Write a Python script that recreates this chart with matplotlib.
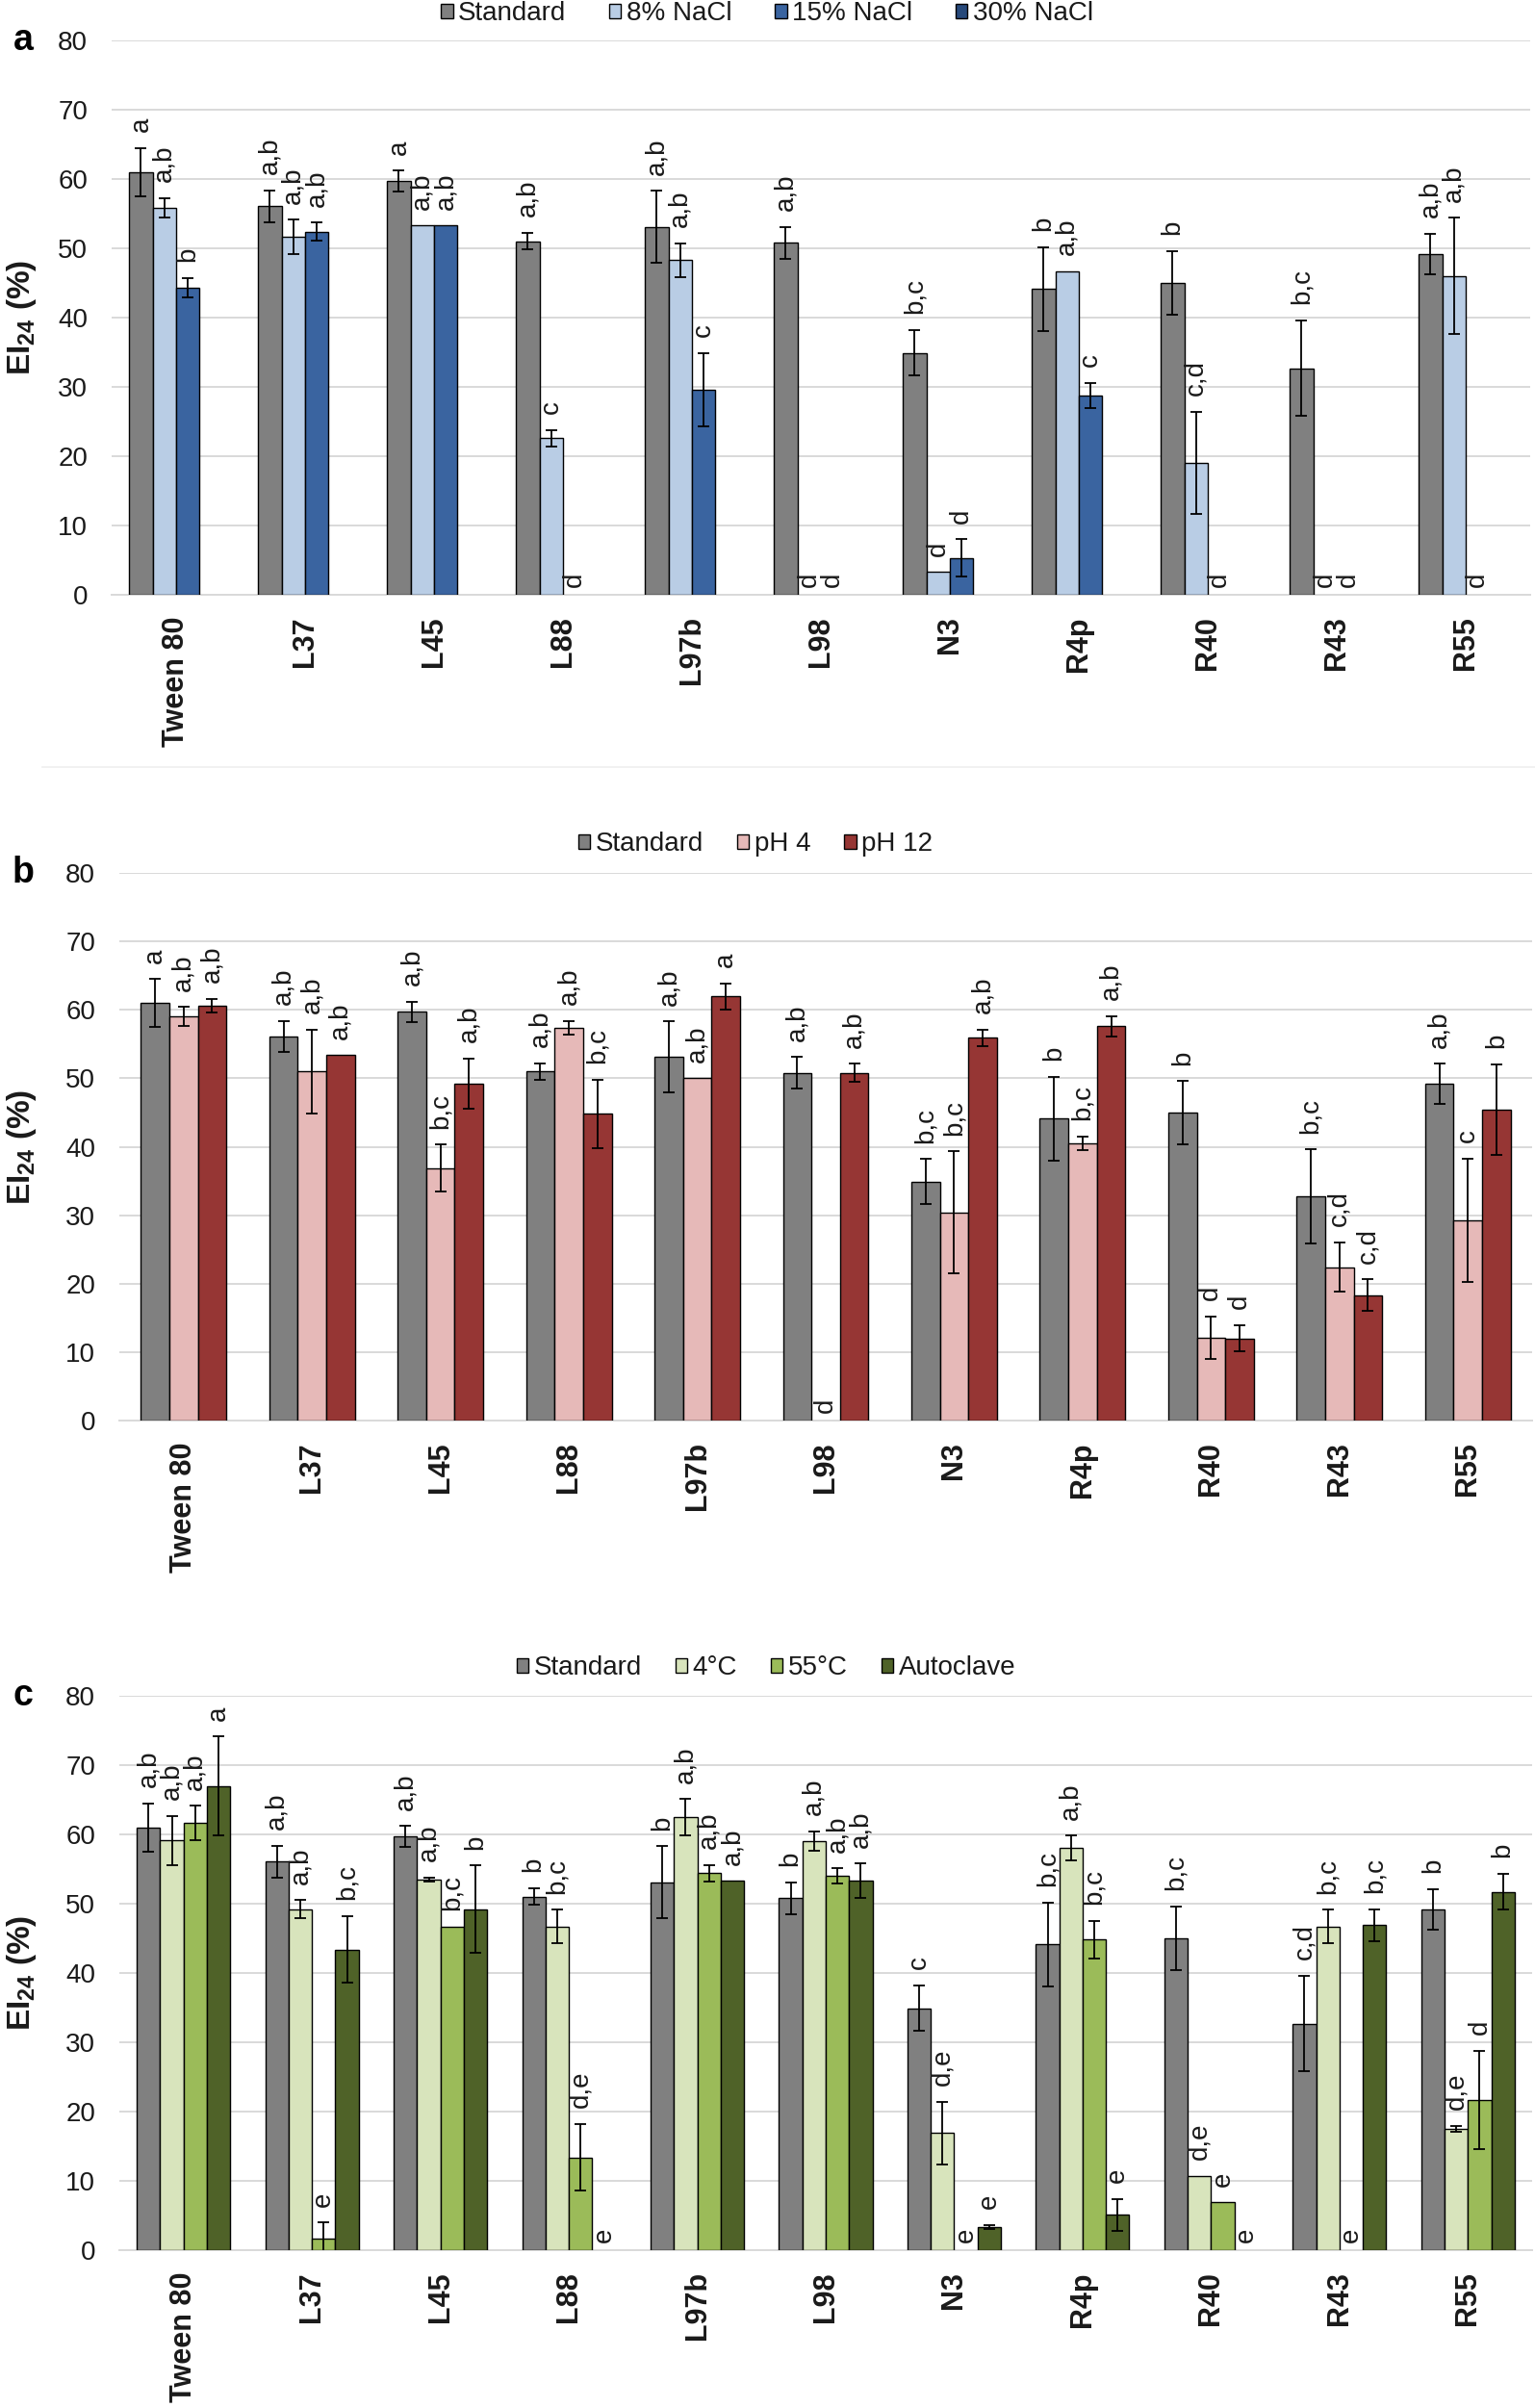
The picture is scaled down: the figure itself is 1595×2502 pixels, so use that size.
import numpy as np
import matplotlib
matplotlib.use('Agg')
import matplotlib.pyplot as plt
from matplotlib.patches import Patch

plt.rcParams['font.family'] = ['Liberation Sans', 'DejaVu Sans']
plt.rcParams['mathtext.fontset'] = 'custom'
plt.rcParams['mathtext.rm'] = 'Liberation Sans'
plt.rcParams['mathtext.bf'] = 'Liberation Sans:bold'

strains = ['Tween 80', 'L37', 'L45', 'L88', 'L97b', 'L98', 'N3', 'R4p', 'R40', 'R43', 'R55']

# standard conditions (same bars in all three panels)
std = [61.0, 56.1, 59.7, 51.0, 53.1, 50.8, 34.9, 44.1, 45.0, 32.7, 49.2]
std_err = [3.5, 2.3, 1.5, 1.2, 5.2, 2.3, 3.3, 6.1, 4.6, 6.9, 2.9]

# panel a - salinity
std_lbl_a = ['a', 'a,b', 'a', 'a,b', 'a,b', 'a,b', 'b,c', 'b', 'b', 'b,c', 'a,b']
nacl8 = [55.8, 51.6, 53.3, 22.6, 48.3, 0, 3.3, 46.7, 19.0, 0, 46.0]
nacl8_err = [1.4, 2.5, 0, 1.2, 2.4, 0, 0, 0, 7.4, 0, 8.4]
nacl8_lbl = ['a,b', 'a,b', 'a,b', 'c', 'a,b', 'd', 'd', 'a,b', 'c,d', 'd', 'a,b']
nacl15 = [44.3, 52.4, 53.3, 0, 29.6, 0, 5.3, 28.8, 0, 0, 0]
nacl15_err = [1.4, 1.3, 0, 0, 5.3, 0, 2.7, 1.8, 0, 0, 0]
nacl15_lbl = ['b', 'a,b', 'a,b', 'd', 'c', 'd', 'd', 'c', 'd', 'd', 'd']
nacl30 = [0, 0, 0, 0, 0, 0, 0, 0, 0, 0, 0]
nacl30_err = [0, 0, 0, 0, 0, 0, 0, 0, 0, 0, 0]

# panel b - pH
std_lbl_b = ['a', 'a,b', 'a,b', 'a,b', 'a,b', 'a,b', 'b,c', 'b', 'b', 'b,c', 'a,b']
ph4 = [59.0, 51.0, 36.9, 57.4, 50.0, 0, 30.4, 40.5, 12.1, 22.4, 29.3]
ph4_err = [1.4, 6.1, 3.4, 1.0, 0, 0, 8.9, 1.0, 3.1, 3.6, 9.0]
ph4_lbl = ['a,b', 'a,b', 'b,c', 'a,b', 'a,b', 'd', 'b,c', 'b,c', 'd', 'c,d', 'c']
ph12 = [60.6, 53.4, 49.2, 44.8, 62.0, 50.8, 55.9, 57.6, 12.0, 18.3, 45.4]
ph12_err = [1.0, 0, 3.7, 5.0, 1.9, 1.3, 1.2, 1.5, 1.9, 2.3, 6.6]
ph12_lbl = ['a,b', 'a,b', 'a,b', 'b,c', 'a', 'a,b', 'a,b', 'a,b', 'd', 'c,d', 'b']

# panel c - temperature
std_lbl_c = ['a,b', 'a,b', 'a,b', 'b', 'b', 'b', 'c', 'b,c', 'b,c', 'c,d', 'b']
t4 = [59.1, 49.2, 53.5, 46.7, 62.5, 59.0, 16.9, 58.0, 10.7, 46.7, 17.5]
t4_err = [3.6, 1.3, 0.3, 2.4, 2.6, 1.4, 4.5, 1.8, 0, 2.4, 0.4]
t4_lbl = ['a,b', 'a,b', 'a,b', 'b,c', 'a,b', 'a,b', 'd,e', 'a,b', 'd,e', 'b,c', 'd,e']
t55 = [61.6, 1.6, 46.7, 13.4, 54.4, 54.0, 0, 44.8, 6.9, 0, 21.7]
t55_err = [2.5, 2.4, 0, 4.8, 1.2, 1.1, 0, 2.7, 0, 0, 7.1]
t55_lbl = ['a,b', 'e', 'b,c', 'd,e', 'a,b', 'a,b', 'e', 'b,c', 'e', 'e', 'd']
auto = [67.0, 43.4, 49.2, 0, 53.3, 53.3, 3.3, 5.1, 0, 46.9, 51.7]
auto_err = [7.1, 4.8, 6.3, 0, 0, 2.5, 0.3, 2.3, 0, 2.3, 2.6]
auto_lbl = ['a', 'b,c', 'b', 'e', 'a,b', 'a,b', 'e', 'e', 'e', 'b,c', 'b']

W, H = 1595, 2502
fig = plt.figure(figsize=(W / 100, H / 100), dpi=100)
GRID = '#D9D9D9'
TXT = '#1a1a1a'


def draw_panel(box, series, letter, leg_xy, colsp=1.25):
    left, right, top, bottom = box
    ax = fig.add_axes([left / W, 1 - bottom / H, (right - left) / W, (bottom - top) / H])
    n = len(series)
    w = 1.0 / (n + 1.5)
    x = np.arange(len(strains))
    handles = []
    for i, (name, vals, err, lbl, col) in enumerate(series):
        pos = x + (i - (n - 1) / 2) * w
        vals = np.array(vals, float)
        err = np.array(err, float)
        lw = np.where(vals > 0, 1.0, 0.0)
        ax.bar(pos, vals, w, color=col, edgecolor='black', linewidth=lw, zorder=3)
        has = err > 0
        ax.errorbar(pos[has], vals[has], yerr=err[has], fmt='none', ecolor='black',
                    elinewidth=1.3, capsize=4, capthick=1.3, zorder=4)
        handles.append(Patch(facecolor=col, edgecolor='black', linewidth=1.0, label=name))
        if lbl is None:
            continue
        for p, v, e, t in zip(pos, vals, err, lbl):
            ax.annotate(t, (p, v + e), xytext=(0, 6 if v == 0 else 12),
                        textcoords='offset points', rotation=90, ha='center',
                        va='bottom', fontsize=20, color=TXT)

    ax.set_xlim(-0.5, len(strains) - 0.5)
    ax.set_ylim(0, 80)
    ax.set_yticks(range(0, 81, 10))
    ax.set_xticks(x)
    ax.set_xticklabels(strains, rotation=90, fontsize=22, fontweight='bold',
                       color=TXT, va='top')
    ax.tick_params(axis='x', length=0, pad=16)
    ax.tick_params(axis='y', length=0, labelsize=20, pad=18, labelcolor=TXT)
    ax.yaxis.grid(True, color=GRID, linewidth=1.4)
    ax.set_axisbelow(True)
    for s in ['top', 'right', 'left']:
        ax.spines[s].set_visible(False)
    ax.spines['bottom'].set_color(GRID)
    ax.spines['bottom'].set_linewidth(1.4)
    ax.patch.set_alpha(0)

    fig.text(22 / W, 1 - (top + bottom) / 2 / H, r'EI$_{\mathbf{24}}$ (%)', rotation=90,
             fontsize=24, fontweight='bold', ha='center', va='center', color=TXT)
    fig.text(24 / W, 1 - top / H, letter, fontsize=27, fontweight='bold',
             ha='center', va='center', color='black')
    fig.legend(handles=handles, loc='center', ncol=n, frameon=False, fontsize=20,
               bbox_to_anchor=(leg_xy[0] / W, 1 - leg_xy[1] / H),
               handlelength=0.45, handleheight=0.45, handletextpad=0.2,
               columnspacing=colsp, borderaxespad=0, labelcolor=TXT)
    return ax


draw_panel((116, 1590, 42, 618), [
    ('Standard', std, std_err, std_lbl_a, '#808080'),
    ('8% NaCl', nacl8, nacl8_err, nacl8_lbl, '#B9CDE5'),
    ('15% NaCl', nacl15, nacl15_err, nacl15_lbl, '#3A64A0'),
    ('30% NaCl', nacl30, nacl30_err, None, '#27497A'),
], 'a', (797, 14), colsp=1.6)

# faint frame line under panel a
fig.add_artist(plt.Line2D([44 / W, 1.0], [1 - 797 / H, 1 - 797 / H],
                          transform=fig.transFigure, color='#EFEFEF', linewidth=1.2))

draw_panel((124, 1592, 907, 1476), [
    ('Standard', std, std_err, std_lbl_b, '#808080'),
    ('pH 4', ph4, ph4_err, ph4_lbl, '#E6B9B8'),
    ('pH 12', ph12, ph12_err, ph12_lbl, '#963634'),
], 'b', (785, 877))

draw_panel((124, 1592, 1762, 2338), [
    ('Standard', std, std_err, std_lbl_c, '#808080'),
    ('4°C', t4, t4_err, t4_lbl, '#D8E4BC'),
    ('55°C', t55, t55_err, t55_lbl, '#9BBB59'),
    ('Autoclave', auto, auto_err, auto_lbl, '#4F6228'),
], 'c', (796, 1733))

fig.savefig('out.png', dpi=100)
